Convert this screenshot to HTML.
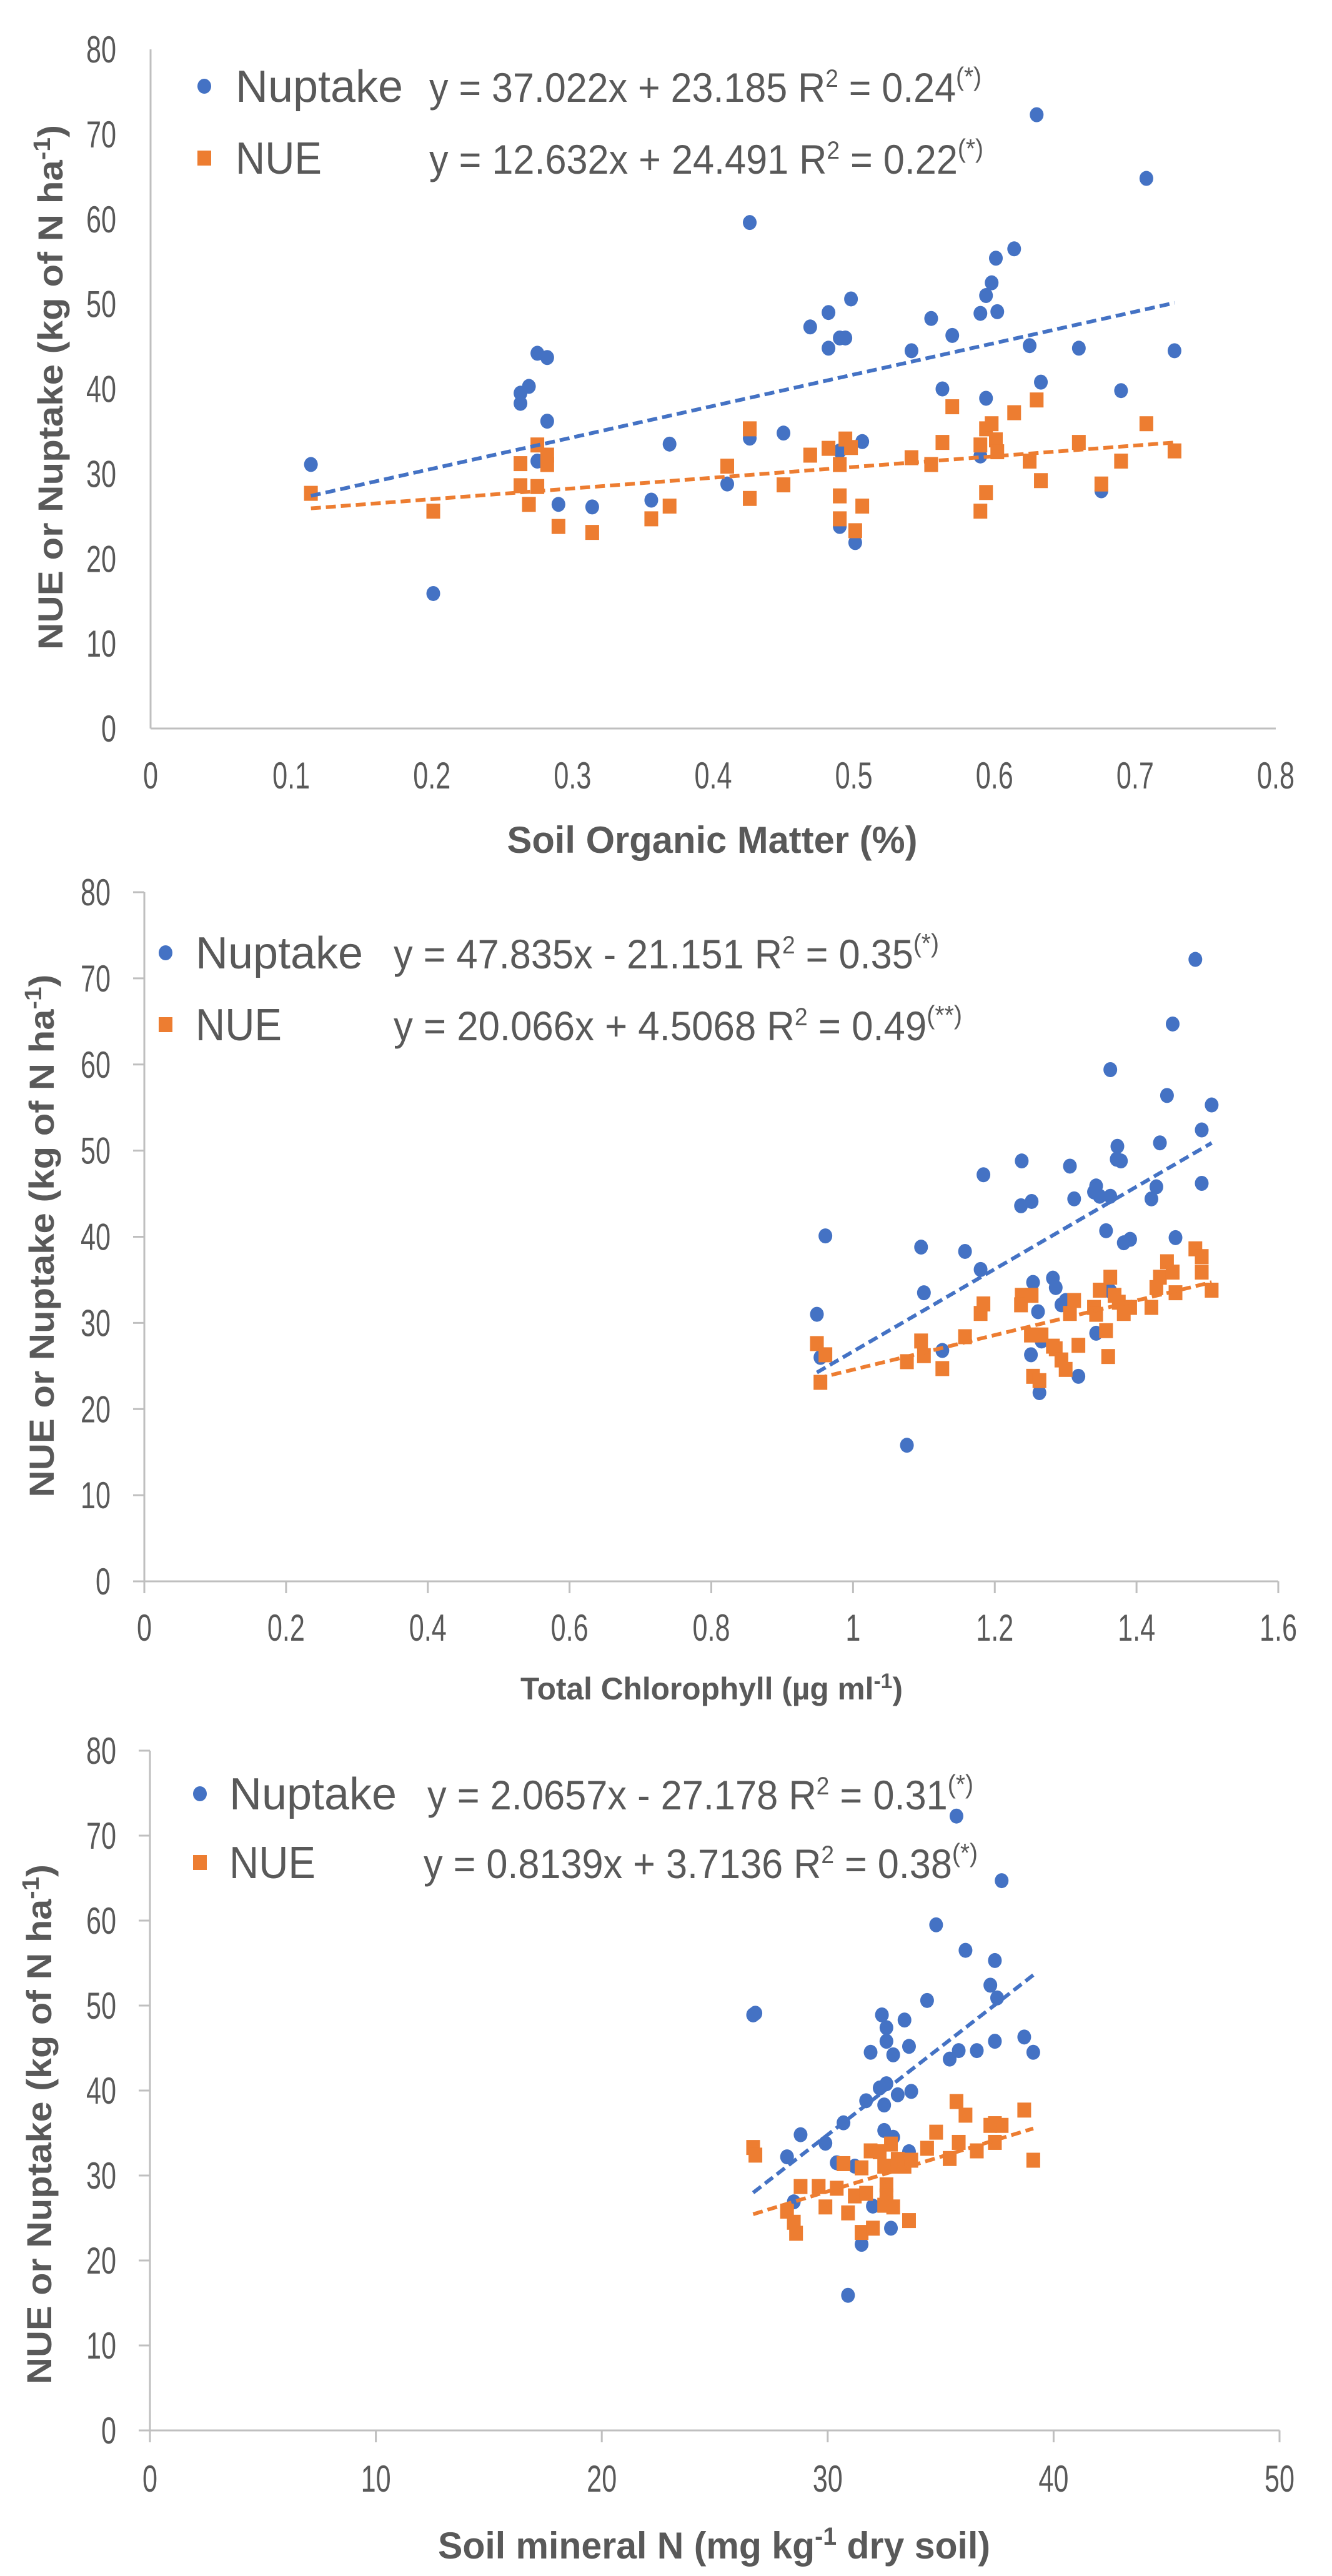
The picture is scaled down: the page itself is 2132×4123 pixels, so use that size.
<!DOCTYPE html>
<html><head><meta charset="utf-8"><style>
html,body{margin:0;padding:0;background:#fff;}
svg{display:block;}
text{font-family:"Liberation Sans",sans-serif;fill:#595959;}
</style></head><body>
<svg id="fig" width="2132" height="4123" viewBox="0 0 2132 4123" xmlns="http://www.w3.org/2000/svg"></svg>
<script>
// ---- Chart 1: Soil Organic Matter ----
const som_nup_x=[0.114,0.201,0.263,0.263,0.269,0.275,0.282,0.282,0.275,0.290,0.314,0.356,0.369,0.410,0.426,0.426,0.450,0.469,0.482,0.482,0.490,0.494,0.490,0.490,0.498,0.501,0.506,0.541,0.555,0.563,0.570,0.590,0.594,0.598,0.601,0.602,0.614,0.590,0.594,0.625,0.630,0.633,0.660,0.676,0.690,0.708,0.728];
const som_nup_y=[31.1,15.9,39.5,38.3,40.3,44.2,43.7,36.2,31.5,26.4,26.1,26.9,33.5,28.8,59.6,34.2,34.8,47.3,49.0,44.8,46.0,46.0,32.7,23.8,50.6,21.9,33.8,44.5,48.3,40.0,46.3,48.9,51.0,52.5,55.4,49.1,56.5,32.1,38.9,45.1,72.3,40.8,44.8,28.0,39.8,64.8,44.5];
const som_nue_x=[0.114,0.201,0.263,0.263,0.269,0.275,0.275,0.282,0.282,0.290,0.314,0.356,0.369,0.410,0.426,0.426,0.450,0.469,0.482,0.490,0.490,0.490,0.494,0.498,0.501,0.506,0.541,0.555,0.563,0.570,0.590,0.590,0.594,0.594,0.598,0.601,0.602,0.614,0.625,0.630,0.633,0.660,0.676,0.690,0.708,0.728];
const som_nue_y=[27.7,25.6,31.2,28.6,26.4,33.4,28.5,32.2,31.1,23.8,23.1,24.7,26.2,30.9,35.3,27.1,28.7,32.2,33.0,31.1,27.4,24.7,34.1,33.1,23.3,26.2,31.9,31.1,33.7,37.9,33.4,25.6,35.3,27.8,35.9,34.0,32.6,37.2,31.5,38.7,29.2,33.7,28.8,31.5,35.9,32.7];
const som_xticks=["0","0.1","0.2","0.3","0.4","0.5","0.6","0.7","0.8"];
const som_trend_slope=[37.022,12.632];
const som_trend_int=[23.185,24.491];
// ---- Chart 2: Total Chlorophyll ----
const chl_nup_x=[0.949,0.954,0.961,1.076,1.096,1.100,1.126,1.158,1.180,1.184,1.238,1.237,1.252,1.254,1.251,1.261,1.263,1.266,1.282,1.286,1.294,1.300,1.306,1.312,1.318,1.340,1.343,1.348,1.343,1.357,1.363,1.363,1.363,1.373,1.372,1.378,1.382,1.391,1.421,1.428,1.433,1.443,1.451,1.455,1.483,1.492,1.492,1.506];
const chl_nup_y=[31.0,26.0,40.1,15.8,38.8,33.5,26.8,38.3,36.2,47.2,48.8,43.6,44.1,34.7,26.3,31.3,21.9,27.9,35.2,34.1,32.1,32.6,48.2,44.4,23.8,45.2,45.9,44.7,28.8,40.7,59.4,44.7,33.7,50.5,49.0,48.8,39.3,39.7,44.4,45.8,50.9,56.4,64.7,39.9,72.2,52.4,46.2,55.3];
const chl_nue_x=[0.949,0.954,0.961,1.076,1.096,1.100,1.126,1.158,1.180,1.184,1.238,1.237,1.252,1.254,1.251,1.263,1.266,1.282,1.286,1.294,1.300,1.306,1.312,1.318,1.340,1.343,1.348,1.357,1.360,1.363,1.369,1.375,1.382,1.391,1.421,1.428,1.433,1.443,1.451,1.455,1.483,1.492,1.492,1.506];
const chl_nue_y=[27.6,23.1,26.3,25.5,27.9,26.2,24.7,28.4,31.1,32.2,33.2,32.1,33.2,23.8,28.6,23.3,28.6,27.3,27.0,25.7,24.6,31.1,32.6,27.4,31.8,31.0,33.8,29.1,26.1,35.3,33.2,32.4,31.1,31.8,31.8,34.1,35.3,37.1,35.9,33.5,38.6,37.7,35.9,33.8];
const chl_xticks=["0","0.2","0.4","0.6","0.8","1","1.2","1.4","1.6"];
const chl_trend_slope=[47.835,20.066];
const chl_trend_int=[-21.151,4.5068];
// ---- Chart 3: Soil mineral N ----
const smn_nup_x=[26.7,26.8,28.2,28.5,28.8,29.9,30.4,30.7,30.9,31.2,31.5,31.7,31.9,32.0,32.3,32.4,32.5,32.5,32.6,32.6,32.6,32.8,32.9,32.9,33.1,33.4,33.6,33.6,33.7,34.4,34.8,35.4,35.7,35.8,36.1,36.6,37.2,37.4,37.4,37.5,37.7,38.7,39.1];
const smn_nup_y=[48.9,49.1,32.2,26.9,34.8,33.8,31.5,36.2,15.9,31.1,21.9,38.8,44.5,26.4,40.3,48.9,35.3,38.3,45.8,47.4,40.8,23.8,34.5,44.2,39.5,48.3,45.2,32.8,39.9,50.6,59.5,43.7,72.3,44.7,56.5,44.7,52.4,45.8,55.3,50.9,64.7,46.3,44.5];
const smn_nue_x=[26.7,26.8,28.2,28.5,28.6,28.8,29.6,29.9,30.4,30.7,30.9,31.2,31.5,31.5,31.7,31.9,32.0,32.3,32.5,32.5,32.6,32.6,32.6,32.8,32.9,32.9,33.1,33.4,33.6,33.7,34.4,34.8,35.4,35.7,35.8,36.1,36.6,37.2,37.4,37.4,37.7,38.7,39.1];
const smn_nue_y=[33.3,32.4,25.8,24.5,23.2,28.7,28.7,26.3,28.5,31.4,25.6,27.6,30.9,23.3,27.9,32.9,23.8,32.8,26.5,31.1,28.9,27.6,26.7,33.7,26.3,31.1,31.9,31.1,24.7,31.8,33.2,35.1,32.0,38.7,33.9,37.1,32.9,35.9,33.9,36.1,35.9,37.7,31.8];
const smn_xticks=["0","10","20","30","40","50"];
const smn_trend_slope=[2.0657,0.8139];
const smn_trend_int=[-27.178,3.7136];
const yticks=["0","10","20","30","40","50","60","70","80"];

const NS="http://www.w3.org/2000/svg";
const svg=document.getElementById('fig');
function mk(tag,attrs,parent){const e=document.createElementNS(NS,tag);for(const k in attrs)e.setAttribute(k,attrs[k]);(parent||svg).appendChild(e);return e;}
function ctext(parent,x,y,str,size,anchor,sx,weight){
  const t=mk('text',{transform:`translate(${x},${y}) scale(${sx},1)`,'font-size':size,'text-anchor':anchor,'font-weight':weight||'normal'},parent);
  t.textContent=str;return t;
}

const charts=[
 {id:'som',L:241,R:2042,T:79,B:1166,xmax:0.8,ticks:false,nx:som_nup_x,ny:som_nup_y,ex:som_nue_x,ey:som_nue_y,xt:som_xticks,sl:som_trend_slope,ic:som_trend_int,
  ylab:186,xlabY:1241,ytitleX:100,ytitleY:620,ytitleLen:840,xtitle:'Soil Organic Matter (%)',xtitleX:1140,xtitleY:1345,xtitleLen:657,xtitleSize:60,
  legX:327,legY1:138,legY2:253,legTx:377,eqX:687,eq1:['y = 37.022x + 23.185 R','2',' = 0.24','(*)'],eq2:['y = 12.632x + 24.491 R','2',' = 0.22','(*)'],eqLen1:884,eqLen2:887},
 {id:'chl',L:231,R:2046,T:1428,B:2531,xmax:1.6,ticks:true,nx:chl_nup_x,ny:chl_nup_y,ex:chl_nue_x,ey:chl_nue_y,xt:chl_xticks,sl:chl_trend_slope,ic:chl_trend_int,
  ylab:177,xlabY:2605,ytitleX:86,ytitleY:1978,ytitleLen:837,xtitle:'Total Chlorophyll (µg ml',xtitleX:1139,xtitleY:2700,xtitleLen:612,xtitleSize:50,sup:true,
  legX:265,legY1:1525,legY2:1640,legTx:313,eqX:630,eq1:['y = 47.835x - 21.151 R','2',' = 0.35','(*)'],eq2:['y = 20.066x + 4.5068 R','2',' = 0.49','(**)'],eqLen1:873,eqLen2:910},
 {id:'smn',L:240,R:2048,T:2802,B:3890,xmax:50,ticks:true,nx:smn_nup_x,ny:smn_nup_y,ex:smn_nue_x,ey:smn_nue_y,xt:smn_xticks,sl:smn_trend_slope,ic:smn_trend_int,
  ylab:186,xlabY:3967,ytitleX:82,ytitleY:3400,ytitleLen:832,xtitle:'Soil mineral N (mg kg',xtitleX:1143,xtitleY:4075,xtitleLen:884,xtitleSize:60,sup2:true,
  legX:320,legY1:2871,legY2:2981,legTx:367,eqX:684,eq1:['y = 2.0657x - 27.178 R','2',' = 0.31','(*)'],eq2:['y = 0.8139x + 3.7136 R','2',' = 0.38','(*)'],eqLen1:874,eqLen2:887,eqX2:678}
];

charts.forEach(c=>{
  const g=mk('g',{});
  
  
  const sx=v=>c.L+(v/c.xmax)*(c.R-c.L);
  const sy=v=>c.B-(v/80)*(c.B-c.T);
  const ax=mk('g',{stroke:'#bfbfbf','stroke-width':3,fill:'none'},g);
  
  
  mk('line',{x1:c.L,y1:c.T,x2:c.L,y2:c.B+(c.ticks?19:0)},ax);
  mk('line',{x1:c.L-(c.ticks?18:0),y1:c.B,x2:c.R,y2:c.B},ax);
  yticks.forEach((t,i)=>{
    const v=+t;const y=sy(v);
    if(c.ticks) mk('line',{x1:c.L-18,y1:y,x2:c.L,y2:y},ax);
    const tx=ctext(g,c.ylab,y+21,t,60,'end',0.72);
    
    
  });
  c.xt.forEach((t,i)=>{
    const x=sx(+t);
    if(c.ticks) mk('line',{x1:x,y1:c.B,x2:x,y2:c.B+19},ax);
    const tx=ctext(g,x,c.xlabY+21,t,60,'middle',0.72);
    
    
  });
  const pn=mk('g',{fill:'#4472c4'},g);
  
  
  c.nx.forEach((v,i)=>{const p=mk('ellipse',{cx:sx(v),cy:sy(c.ny[i]),rx:11,ry:12},pn);
    
    });
  const pe=mk('g',{fill:'#ed7d31'},g);
  
  
  c.ex.forEach((v,i)=>{const p=mk('rect',{x:sx(v)-11,y:sy(c.ey[i])-12,width:22,height:24},pe);
    
    });
  const xs=[c.nx,c.ex],cols=['#4472c4','#ed7d31'],nm=['nuptake-trendline','nue-trendline'];
  [0,1].forEach(k=>{
    const lo=Math.min(...xs[k]),hi=Math.max(...xs[k]);
    const l=mk('line',{x1:sx(lo),y1:sy(c.sl[k]*lo+c.ic[k]),x2:sx(hi),y2:sy(c.sl[k]*hi+c.ic[k]),stroke:cols[k],'stroke-width':6,'stroke-dasharray':'16 8'},g);
    
    
  });
  const yt=mk('text',{transform:`translate(${c.ytitleX},${c.ytitleY}) rotate(-90)`,'font-size':56,'font-weight':'bold','text-anchor':'middle',textLength:c.ytitleLen,lengthAdjust:'spacingAndGlyphs'},g);
  yt.innerHTML='NUE or Nuptake (kg of N ha<tspan font-size="38" dy="-20">-1</tspan><tspan dy="20">)</tspan>';
  
  
  const xtt=mk('text',{x:c.xtitleX,y:c.xtitleY+20,'font-size':c.xtitleSize,'font-weight':'bold','text-anchor':'middle',textLength:c.xtitleLen,lengthAdjust:'spacingAndGlyphs'},g);
  if(c.sup) xtt.innerHTML=c.xtitle+'<tspan font-size="34" dy="-18">-1</tspan><tspan dy="18">)</tspan>';
  else if(c.sup2) xtt.innerHTML=c.xtitle+'<tspan font-size="40" dy="-22">-1</tspan><tspan dy="22"> dry soil)</tspan>';
  else xtt.textContent=c.xtitle;
  
  
  const lg=mk('g',{},g);
  
  
  const m1=mk('ellipse',{cx:c.legX,cy:c.legY1,rx:11,ry:12,fill:'#4472c4'},lg);
  
  
  const m2=mk('rect',{x:c.legX-11,y:c.legY2-12,width:22,height:24,fill:'#ed7d31'},lg);
  
  
  const t1=mk('text',{x:c.legTx,y:c.legY1+25,'font-size':72,textLength:268,lengthAdjust:'spacingAndGlyphs'},lg);
  t1.textContent='Nuptake';
  
  
  const t2=mk('text',{x:c.legTx,y:c.legY2+25,'font-size':72,textLength:138,lengthAdjust:'spacingAndGlyphs'},lg);
  t2.textContent='NUE';
  
  
  [[c.eq1,c.legY1,c.eqLen1,c.eqX],[c.eq2,c.legY2,c.eqLen2,c.eqX2||c.eqX]].forEach((e,k)=>{
    const t=mk('text',{x:e[3],y:e[1]+25,'font-size':66,textLength:e[2],lengthAdjust:'spacingAndGlyphs'},lg);
    t.innerHTML=e[0][0]+'<tspan font-size="40" dy="-24">'+e[0][1]+'</tspan><tspan dy="24">'+e[0][2]+'</tspan><tspan font-size="42" dy="-26">'+e[0][3]+'</tspan>';
    
    
  });
});
</script>
</body></html>
